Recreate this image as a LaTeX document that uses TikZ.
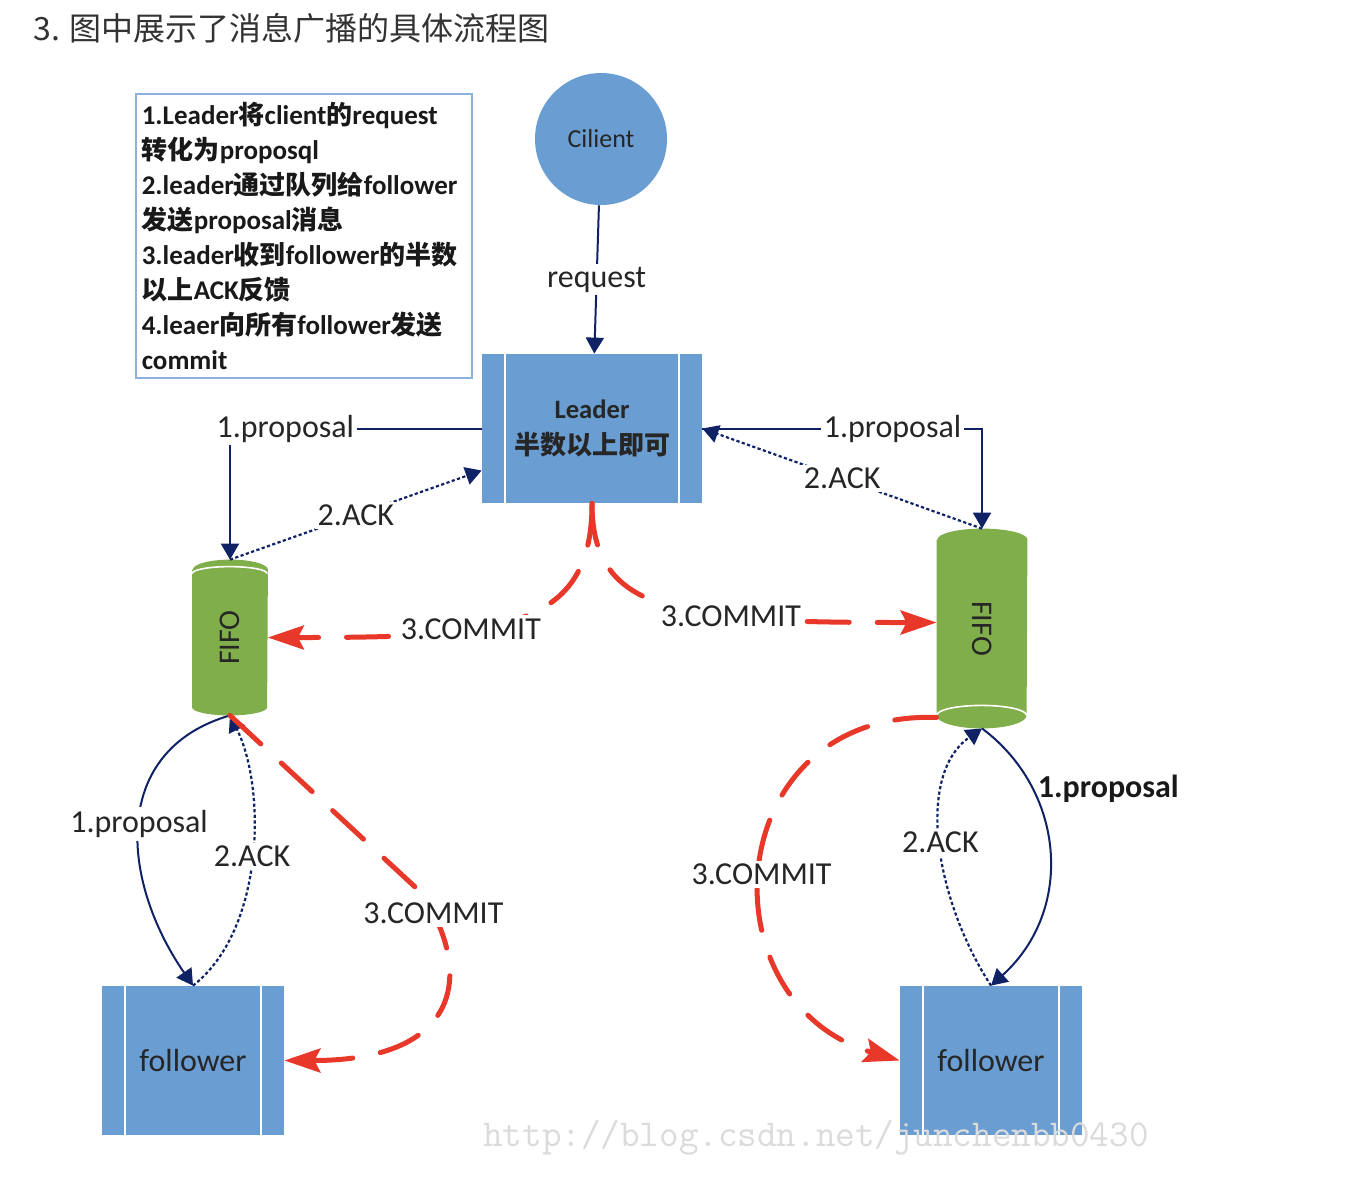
\documentclass[tikz,border=0pt]{standalone}
\usepackage{graphicx}
\usepackage{fontspec}
\setmainfont{Carlito}
\newfontfamily\cjk{Noto Sans CJK SC}
\usetikzlibrary{arrows.meta,backgrounds}

\definecolor{boxblue}{RGB}{106,157,209}
\definecolor{fifogreen}{RGB}{128,174,74}
\definecolor{navy}{RGB}{16,34,102}
\definecolor{commitred}{RGB}{232,56,42}
\definecolor{noteblue}{RGB}{142,178,222}

\newcommand{\zh}[1]{{\cjk\fontsize{13}{17.5}\selectfont #1}}

\tikzset{
  lbl/.style={fill=white, inner sep=1.5pt, text=black!85, font=\fontsize{16}{16}\selectfont},
  procbox/.style={fill=boxblue, minimum width=91pt, minimum height=74.5pt, inner sep=0,
    text=black!85, font=\fontsize{16}{16}\selectfont,
    path picture={\draw[white, thick]
      ([xshift=11.5pt]path picture bounding box.north west) -- ([xshift=11.5pt]path picture bounding box.south west)
      ([xshift=-11.5pt]path picture bounding box.north east) -- ([xshift=-11.5pt]path picture bounding box.south east);}},
  fifonode/.style={inner sep=0, text=black!85, font=\fontsize{15}{15}\selectfont},
  propline/.style={draw=navy, line width=1pt, -{Triangle[length=8pt,width=9pt]}},
  ackline/.style={draw=navy, line width=1.1pt, dash pattern=on 1.6pt off 1.2pt, -{Triangle[length=8pt,width=9pt]}},
  commitline/.style={draw=commitred, line width=2.5pt, line cap=round, dash pattern=on 21pt off 14pt,
    -{Stealth[length=18pt,width=12pt,inset=3pt]}}
}

\begin{document}
\begin{tikzpicture}[x=0.5pt, y=-0.5pt]
\useasboundingbox (0,0) rectangle (1358,1180);

% title and notes
\node[anchor=west, inner sep=0, text=black!80, font=\cjk\fontsize{16}{16}\selectfont] (title) at (33,28) {3. 图中展示了消息广播的具体流程图};
\node[draw=noteblue, line width=0.8pt, anchor=north west, text width=162pt, minimum height=142pt,
  inner xsep=3pt, inner ysep=2pt, align=left, text=black!90,
  font=\bfseries\fontsize{13.5}{17.5}\selectfont] (note) at (135,93)
  {1.Leader\zh{将}client\zh{的}request\\ \zh{转化为}proposql\\ 2.leader\zh{通过队列给}follower\\
   \zh{发送}proposal\zh{消息}\\ 3.leader\zh{收到}follower\zh{的半数}\\ \zh{以上}ACK\zh{反馈}\\
   4.leaer\zh{向所有}follower\zh{发送}\\ commit};

% nodes
\node[circle, fill=boxblue, minimum size=66pt, inner sep=0, text=black!85, font=\fontsize{13}{13}\selectfont] (client) at (601,139) {Cilient};
\node[procbox, minimum width=110pt, align=center, font=\fontsize{13}{18}\selectfont] (leader) at (592,428.5)
  {{\bfseries\fontsize{13.3}{18}\selectfont Leader}\\{\cjk\bfseries\fontsize{13}{18}\selectfont 半数以上即可}};
\node[fifonode, minimum width=37.5pt, minimum height=77.5pt] (lfifo) at (230,637.5) {\rotatebox{90}{FIFO}};
\node[fifonode, minimum width=45pt, minimum height=99.5pt] (rfifo) at (982,628.5) {\rotatebox{-90}{FIFO}};
\node[procbox] (lfollower) at (193,1060.5) {follower};
\node[procbox] (rfollower) at (991,1060.5) {follower};

% page and cylinders
\begin{scope}[on background layer]
\fill[white] (0,0) rectangle (1358,1180);
\fill[fifogreen] ([yshift=-5pt]lfifo.north west) -- ([yshift=4pt]lfifo.south west)
  arc[start angle=180, end angle=360, x radius=18.75pt, y radius=4pt]
  -- ([yshift=-5pt]lfifo.north east) arc[start angle=0, end angle=180, x radius=18.75pt, y radius=5pt] -- cycle;
\draw[white, thick] ([yshift=-7pt]lfifo.north west) arc[start angle=180, end angle=0, x radius=18.75pt, y radius=3.5pt];
\fill[fifogreen] ([yshift=-5.5pt]rfifo.north west) -- ([yshift=6.5pt]rfifo.south west)
  arc[start angle=180, end angle=360, x radius=22.5pt, y radius=6.5pt]
  -- ([yshift=-5.5pt]rfifo.north east) arc[start angle=0, end angle=180, x radius=22.5pt, y radius=5.5pt] -- cycle;
\draw[white, thick] ([yshift=6.5pt]rfifo.south west) arc[start angle=180, end angle=0, x radius=22.5pt, y radius=5pt];
\end{scope}

% client to leader
\draw[propline] (client) -- (leader) node[lbl, midway] {request};

% leader to fifos
\draw[propline] (leader.west) -| (lfifo.north) node[lbl, pos=0.39] {1.proposal};
\draw[ackline] (lfifo.north) -- ([yshift=-21pt]leader.west) node[lbl, midway] {2.ACK};
\draw[propline] (leader.east) -| (rfifo.north) node[lbl, pos=0.34] {1.proposal};
\draw[ackline] (rfifo.north) -- (leader.east) node[lbl, midway] {2.ACK};
\draw[commitline] (leader.south) .. controls +(0,127) and +(233,0) .. (lfifo.east) node[lbl, pos=0.63] {3.COMMIT};
\draw[commitline] (leader.south) .. controls +(0,112) and +(-255,0) .. ([yshift=3pt]rfifo.west) node[lbl, pos=0.66] {3.COMMIT};

% fifos to followers
\draw[propline] (lfifo.south) .. controls +(-120,35) and +(-73,-106) .. (lfollower.north) node[lbl, midway] {1.proposal};
\draw[ackline] (lfollower.north) .. controls +(72,-56) and +(36,72) .. (lfifo.south) node[lbl, midway] {2.ACK};
\draw[commitline] (lfifo.south) -- ++(192,178) .. controls +(53,82) and +(175,0) .. (lfollower.east) node[lbl, pos=0.08] {3.COMMIT};
\draw[propline] (rfifo.south) .. controls +(83,62) and +(84,-76) .. (rfollower.north)
  node[anchor=west, pos=0.27, inner sep=2pt, text=black!90, font=\bfseries\fontsize{16}{16}\selectfont] {1.proposal};
\draw[ackline] (rfollower.north) .. controls +(-56,-86) and +(-67,47) .. (rfifo.south) node[lbl, midway] {2.ACK};
\draw[commitline] ([yshift=5.5pt]rfifo.south west) .. controls +(-218,-7) and +(-198,-58) .. (rfollower.west) node[lbl, pos=0.52] {3.COMMIT};

% watermark
\node[inner sep=0, text=black!14, font=\ttfamily\fontsize{19}{19}\selectfont] (mark) at (816,1138) {http://blog.csdn.net/junchenbb0430};
\end{tikzpicture}
\end{document}
